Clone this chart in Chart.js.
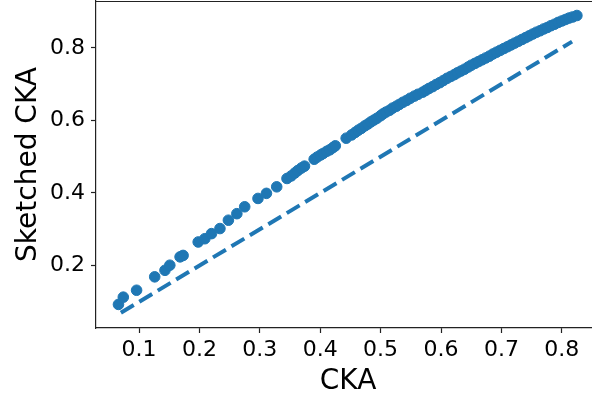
<!DOCTYPE html>
<html lang="en">
<head>
<meta charset="UTF-8">
<title>Sketched CKA vs CKA</title>
<style>
  html, body { margin: 0; padding: 0; background: #fff; }
  #wrap { width: 592px; height: 399px; }
</style>
</head>
<body>
<div id="wrap"><canvas id="cka-chart" width="592" height="399"></canvas></div>
<script src="https://cdn.jsdelivr.net/npm/chart.js"></script>
<script>
// exact CKA per layer pair (x) against its sketched estimate (y)
const ckaValues = [
  0.066, 0.074, 0.096, 0.126, 0.143, 0.151, 0.168, 0.173,
  0.198, 0.209, 0.220, 0.234, 0.248, 0.262, 0.275,
  0.297, 0.311, 0.328, 0.345, 0.352, 0.358, 0.363, 0.369, 0.374,
  0.390, 0.395, 0.401, 0.405, 0.411, 0.416, 0.421, 0.425,
  0.443, 0.452, 0.458, 0.463, 0.468, 0.474, 0.479, 0.484, 0.489, 0.494,
  0.500, 0.504, 0.509, 0.515, 0.520, 0.526, 0.531, 0.537, 0.543, 0.549,
  0.556, 0.562, 0.570, 0.575, 0.580, 0.586, 0.592, 0.598, 0.604, 0.610,
  0.616, 0.622, 0.627, 0.633, 0.639, 0.645, 0.650, 0.656, 0.662, 0.668,
  0.674, 0.680, 0.686, 0.692, 0.698, 0.704, 0.710, 0.716, 0.722, 0.728,
  0.734, 0.740, 0.746, 0.752, 0.758, 0.764, 0.770, 0.776, 0.782, 0.788,
  0.794, 0.800, 0.806, 0.812, 0.818, 0.825
];
const sketchedValues = [
  0.093, 0.113, 0.132, 0.169, 0.187, 0.201, 0.224, 0.228,
  0.265, 0.274, 0.288, 0.302, 0.325, 0.343, 0.362,
  0.385, 0.399, 0.417, 0.440, 0.447, 0.455, 0.462, 0.469, 0.474,
  0.493, 0.499, 0.505, 0.509, 0.515, 0.519, 0.525, 0.530,
  0.551, 0.560, 0.567, 0.573, 0.578, 0.585, 0.590, 0.596, 0.601, 0.606,
  0.613, 0.618, 0.623, 0.628, 0.634, 0.639, 0.644, 0.650, 0.655, 0.661,
  0.667, 0.672, 0.678, 0.683, 0.688, 0.693, 0.699, 0.704, 0.710, 0.716,
  0.721, 0.726, 0.731, 0.736, 0.741, 0.747, 0.752, 0.757, 0.762, 0.767,
  0.772, 0.777, 0.783, 0.788, 0.793, 0.798, 0.803, 0.808, 0.813, 0.818,
  0.823, 0.828, 0.833, 0.838, 0.843, 0.847, 0.852, 0.856, 0.861, 0.865,
  0.870, 0.874, 0.878, 0.882, 0.885, 0.889
];
// y = x reference line
const diagonalEnds = [0.07, 0.817];
const xTicks = [0.1, 0.2, 0.3, 0.4, 0.5, 0.6, 0.7, 0.8];
const yTicks = [0.2, 0.4, 0.6, 0.8];

const blue = '#1f77b4';
const font = 'DejaVu Sans';

function noPadding(scale) {
  scale.paddingTop = 0;
  scale.paddingBottom = 0;
  scale.paddingLeft = 0;
  scale.paddingRight = 0;
}

// top spine plus the two axis titles
const frame = {
  id: 'frame',
  afterDraw(chart) {
    const { ctx, chartArea: a } = chart;
    ctx.save();
    ctx.strokeStyle = '#222';
    ctx.lineWidth = 1.2;
    ctx.beginPath();
    ctx.moveTo(a.left, a.top + 0.5);
    ctx.lineTo(a.right, a.top + 0.5);
    ctx.stroke();

    ctx.fillStyle = '#000';
    ctx.font = '28px "' + font + '"';
    ctx.textAlign = 'center';
    ctx.textBaseline = 'alphabetic';
    ctx.fillText('CKA', 348, 389);

    ctx.translate(36, (a.top + a.bottom) / 2);
    ctx.rotate(-Math.PI / 2);
    ctx.fillText('Sketched CKA', 0, 0);
    ctx.restore();
  }
};

new Chart(document.getElementById('cka-chart'), {
  type: 'scatter',
  data: {
    datasets: [
      {
        label: 'sketched',
        data: ckaValues.map((x, i) => ({ x, y: sketchedValues[i] })),
        backgroundColor: blue,
        borderColor: blue,
        borderWidth: 1,
        pointRadius: 5.3,
        pointHoverRadius: 5.3
      },
      {
        type: 'line',
        label: 'identity',
        data: diagonalEnds.map(v => ({ x: v, y: v })),
        borderColor: blue,
        borderWidth: 4,
        borderDash: [15, 6.5],
        pointRadius: 0,
        fill: false
      }
    ]
  },
  options: {
    responsive: false,
    animation: false,
    devicePixelRatio: 1,
    layout: { autoPadding: false, padding: { top: 1, right: 0, left: 0, bottom: 0 } },
    plugins: { legend: { display: false }, tooltip: { enabled: false } },
    scales: {
      x: {
        type: 'linear',
        min: 0.0288,
        max: 0.85,
        afterFit(scale) { scale.height = 71; noPadding(scale); },
        afterBuildTicks(scale) { scale.ticks = xTicks.map(v => ({ value: v })); },
        grid: { drawOnChartArea: false, color: '#222', tickLength: 5, tickWidth: 1.2 },
        border: { color: '#222', width: 1.2 },
        ticks: {
          color: '#000',
          padding: 4,
          maxRotation: 0,
          font: { family: font, size: 22 },
          callback: v => v.toFixed(1)
        }
      },
      y: {
        type: 'linear',
        min: 0.028,
        max: 0.929,
        afterFit(scale) { scale.width = 96; noPadding(scale); },
        afterBuildTicks(scale) { scale.ticks = yTicks.map(v => ({ value: v })); },
        grid: { drawOnChartArea: false, color: '#222', tickLength: 5, tickWidth: 1.2 },
        border: { color: '#222', width: 1.2 },
        ticks: {
          color: '#000',
          padding: 6,
          font: { family: font, size: 22 },
          callback: v => v.toFixed(1)
        }
      }
    }
  },
  plugins: [frame]
});
</script>
</body>
</html>
